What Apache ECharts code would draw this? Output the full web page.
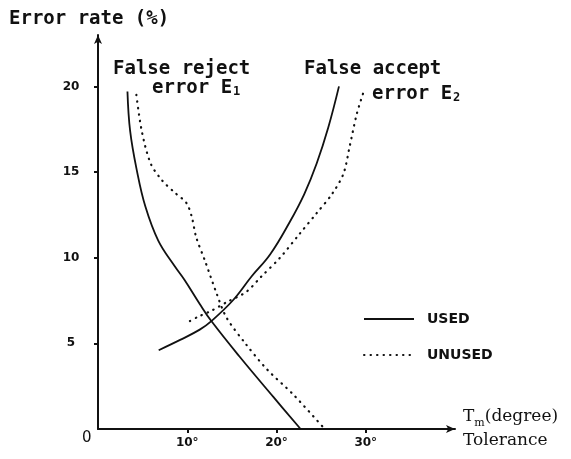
<!DOCTYPE html>
<html>
<head>
<meta charset="utf-8">
<script src="https://cdn.jsdelivr.net/npm/echarts@6/dist/echarts.min.js"></script>
<style>
  html, body { margin: 0; padding: 0; background: #fff; }
  #chart { width: 571px; height: 459px; }
</style>
</head>
<body>
<div id="chart"></div>
<script>
// tolerance (deg) / error rate (%) pairs
var rejectUsed = [[3.3, 19.7], [3.6, 17.4], [4.35, 15.1], [5.3, 13.0], [6.75, 11.0], [8.6, 9.5],
  [9.7, 8.7], [11.4, 7.3], [12.7, 6.3], [15.9, 4.2], [19.6, 1.9], [22.7, 0]];
var rejectUnused = [[4.3, 19.5], [4.9, 17.4], [5.9, 15.5], [7.2, 14.5], [8.6, 13.8], [9.9, 13.2],
  [10.5, 12.4], [11.0, 11.2], [12.0, 9.8], [13.3, 7.9], [14.4, 6.5], [16.5, 5.0], [18.9, 3.5],
  [21.9, 2.0], [25.4, 0]];
var acceptUsed = [[6.8, 4.6], [9.2, 5.2], [11.4, 5.8], [12.7, 6.3], [15.1, 7.5], [17.2, 8.9],
  [19.3, 10.2], [21.5, 12.1], [23.1, 13.7], [24.5, 15.5], [25.8, 17.6], [27.0, 20.0]];
var acceptUnused = [[10.3, 6.3], [11.2, 6.55], [12.7, 6.9], [14.4, 7.4], [16.6, 8.0], [18.3, 8.9],
  [20.4, 10.0], [22.6, 11.4], [24.5, 12.6], [26.2, 13.7], [27.5, 14.9], [28.2, 16.5],
  [29.0, 18.4], [29.9, 19.9]];
var xTicks = [10, 20, 30];
var yTicks = [5, 10, 15, 20];

var mono = '"DejaVu Sans Mono", monospace';
var dotted = [0.5, 6];

var chart = echarts.init(document.getElementById('chart'));

function curve(name, data, solid) {
  return {
    name: name,
    type: 'line',
    data: data,
    smooth: solid ? 0.4 : 0.3,
    symbol: 'none',
    color: '#111',
    lineStyle: solid
      ? { color: '#111', width: 1.8 }
      : { color: '#111', width: 2.2, type: dotted, cap: 'round' }
  };
}

chart.setOption({
  backgroundColor: '#fff',
  animation: false,
  title: {
    text: 'Error rate (%)',
    left: 4,
    top: 5,
    textStyle: { fontFamily: mono, fontWeight: 'bold', fontSize: 19, color: '#111' }
  },
  legend: {
    data: ['USED', 'UNUSED'],
    orient: 'vertical',
    left: 358,
    top: 307,
    itemWidth: 50,
    itemHeight: 14,
    itemGap: 22,
    itemStyle: { opacity: 0 },
    textStyle: { fontFamily: '"DejaVu Sans"', fontWeight: 'bold', fontSize: 14, color: '#111', padding: [0, 0, 0, 8] }
  },
  grid: { left: 98, right: 116, top: 35, bottom: 30 },
  xAxis: {
    type: 'value',
    min: 0,
    max: 40,
    splitLine: { show: false },
    axisLine: { lineStyle: { color: '#111', width: 2 }, symbol: ['none', 'arrow'], symbolSize: [6, 9] },
    axisTick: { customValues: xTicks, length: 4, lineStyle: { color: '#111', width: 2 } },
    axisLabel: {
      customValues: xTicks,
      formatter: '{value}°',
      margin: 8,
      fontFamily: '"DejaVu Sans"', fontWeight: 'bold', fontSize: 12, color: '#111'
    },
    name: 'T{sub|m}(degree)\nTolerance',
    nameLocation: 'end',
    nameGap: 8,
    nameTextStyle: {
      fontFamily: '"DejaVu Serif"', fontSize: 17, color: '#111', lineHeight: 24, align: 'left',
      rich: { sub: { fontFamily: '"DejaVu Serif"', fontSize: 11, color: '#111', verticalAlign: 'bottom', padding: [6, 0, 0, 0] } }
    }
  },
  yAxis: {
    type: 'value',
    min: 0,
    max: 23,
    splitLine: { show: false },
    axisLine: { lineStyle: { color: '#111', width: 2 }, symbol: ['none', 'arrow'], symbolSize: [6, 9] },
    axisTick: { customValues: yTicks, length: 4, lineStyle: { color: '#111', width: 2 } },
    axisLabel: {
      customValues: yTicks,
      align: 'center',
      margin: 27,
      fontFamily: '"DejaVu Sans"', fontWeight: 'bold', fontSize: 12, color: '#111'
    }
  },
  graphic: [
    { type: 'text', left: 82, top: 431, style: { text: '0', font: '15px "DejaVu Sans"', fill: '#111' } },
    { type: 'text', left: 113, top: 60, style: { text: 'False reject', font: 'bold 19px "DejaVu Sans Mono"', fill: '#111' } },
    {
      type: 'text', left: 152, top: 79,
      style: {
        text: '{a|error E}{s|1}',
        rich: {
          a: { font: 'bold 19px "DejaVu Sans Mono"', fill: '#111' },
          s: { font: 'bold 12px "DejaVu Sans Mono"', fill: '#111', padding: [6, 0, 0, 1] }
        }
      }
    },
    { type: 'text', left: 304, top: 60, style: { text: 'False accept', font: 'bold 19px "DejaVu Sans Mono"', fill: '#111' } },
    {
      type: 'text', left: 372, top: 85,
      style: {
        text: '{a|error E}{s|2}',
        rich: {
          a: { font: 'bold 19px "DejaVu Sans Mono"', fill: '#111' },
          s: { font: 'bold 12px "DejaVu Sans Mono"', fill: '#111', padding: [6, 0, 0, 1] }
        }
      }
    }
  ],
  series: [
    curve('USED', rejectUsed, true),
    curve('USED', acceptUsed, true),
    curve('UNUSED', rejectUnused, false),
    curve('UNUSED', acceptUnused, false)
  ]
});
</script>
</body>
</html>
